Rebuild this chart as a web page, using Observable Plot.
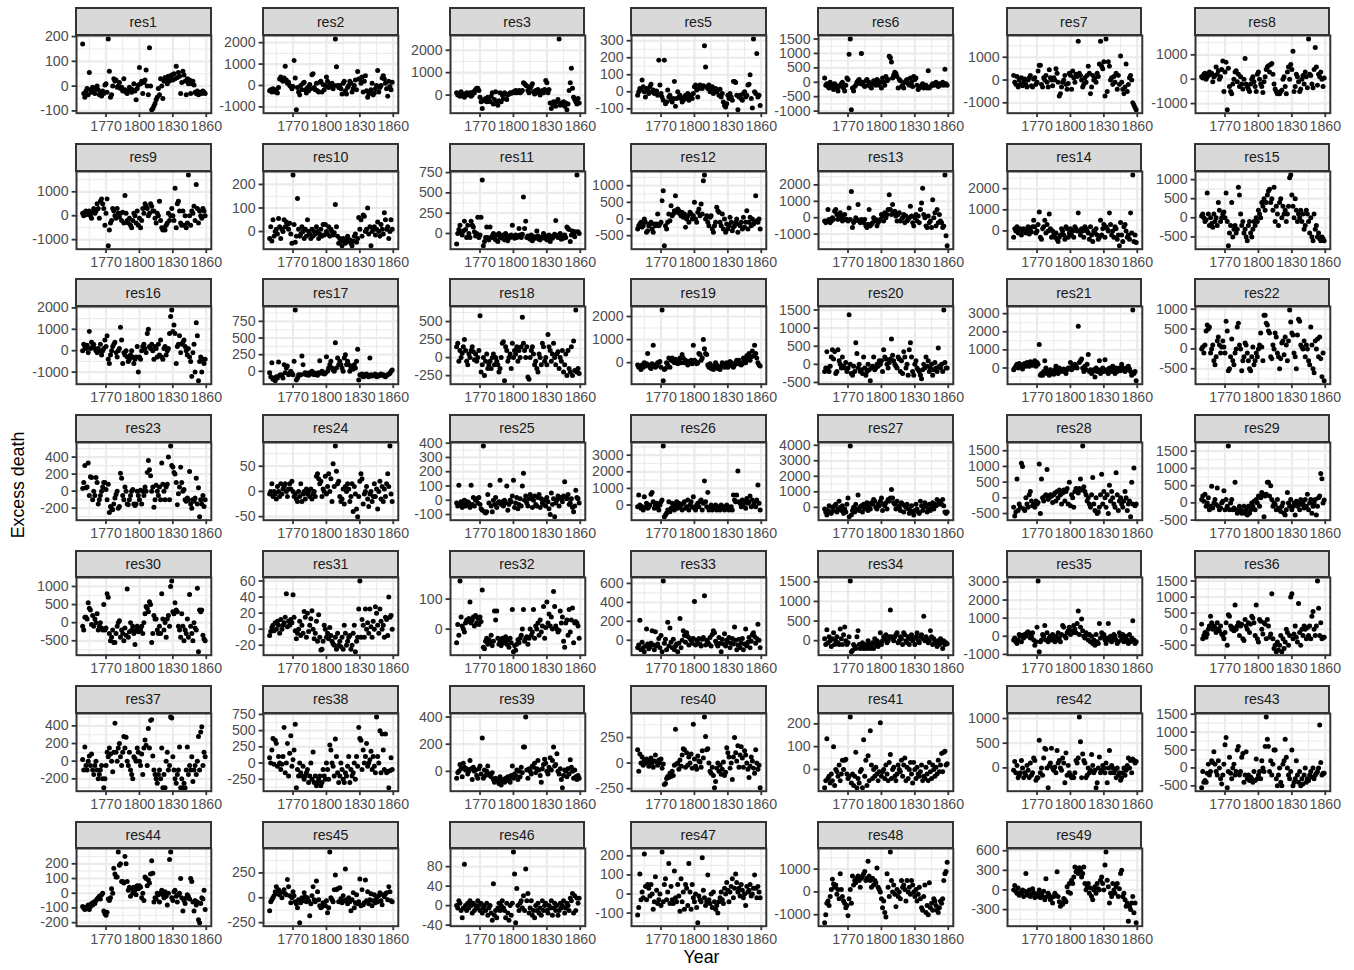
<!DOCTYPE html>
<html><head><meta charset="utf-8">
<script src="https://cdn.jsdelivr.net/npm/d3@7"></script>
<script src="https://cdn.jsdelivr.net/npm/@observablehq/plot@0.6"></script>
<style>
body{margin:0;background:#fff;}
#chart{position:relative;width:1354px;height:970px;font-family:"Liberation Sans",Arial,Helvetica,sans-serif;overflow:hidden;background:#fff}
.strip{position:absolute;box-sizing:border-box;background:#D9D9D9;border:2px solid #333333;color:#1A1A1A;font-size:14.2px;display:flex;align-items:center;justify-content:center}
.pl{position:absolute}
.title{position:absolute;font-size:17.75px;color:#000;white-space:nowrap}
</style></head><body><div id="chart"></div>
<script>
const firstYear = 1749;
const panelNames = ["res1","res2","res3","res5","res6","res7","res8","res9","res10","res11","res12","res13","res14","res15","res16","res17","res18","res19","res20","res21","res22","res23","res24","res25","res26","res27","res28","res29","res30","res31","res32","res33","res34","res35","res36","res37","res38","res39","res40","res41","res42","res43","res44","res45","res46","res47","res48","res49"];
const xTickLabels = [1770, 1800, 1830, 1860];
const xMinorBreaks = [1755, 1785, 1815, 1845];
const yTickLabels = {
res1:[-100,0,100,200], res2:[-1000,0,1000,2000], res3:[0,1000,2000], res5:[-100,0,100,200,300],
res6:[-1000,-500,0,500,1000,1500], res7:[-1000,0,1000], res8:[-1000,0,1000], res9:[-1000,0,1000],
res10:[0,100,200], res11:[0,250,500,750], res12:[-500,0,500,1000], res13:[-1000,0,1000,2000],
res14:[0,1000,2000], res15:[-500,0,500,1000], res16:[-1000,0,1000,2000], res17:[0,250,500,750],
res18:[-250,0,250,500], res19:[0,1000,2000], res20:[-500,0,500,1000,1500], res21:[0,1000,2000,3000],
res22:[-500,0,500,1000], res23:[-200,0,200,400], res24:[-50,0,50], res25:[-100,0,100,200,300,400],
res26:[0,1000,2000,3000], res27:[0,1000,2000,3000,4000], res28:[-500,0,500,1000,1500], res29:[-500,0,500,1000,1500],
res30:[-500,0,500,1000], res31:[-20,0,20,40,60], res32:[0,100], res33:[0,200,400,600],
res34:[0,500,1000,1500], res35:[-1000,0,1000,2000,3000], res36:[-500,0,500,1000,1500], res37:[-200,0,200,400],
res38:[-250,0,250,500,750], res39:[0,200,400], res40:[-250,0,250], res41:[0,100,200],
res42:[0,500,1000], res43:[-500,0,500,1000,1500], res44:[-200,-100,0,100,200], res45:[-250,0,250],
res46:[-40,0,40,80], res47:[-100,0,100,200], res48:[-1000,0,1000], res49:[-300,0,300,600]
};

// values, one per year from 1749 to 1859
const res1 = [170,-30,-45,-20,-10,-35,55,-15,-25,-5,
-20,-30,-10,0,-15,-35,-25,-40,-20,-30,
5,10,-25,190,60,-45,-35,0,30,20,
25,-5,0,15,-10,-5,-20,30,-15,-25,
-30,-20,-5,-10,-25,-15,10,-20,-55,-10,
5,75,10,20,-30,15,25,65,0,-35,
155,0,-95,-90,-80,-70,-55,-45,-10,-35,
30,0,-50,20,35,25,10,40,20,30,
45,25,50,30,80,35,55,40,-30,15,
60,45,20,-35,30,10,25,-30,10,20,
5,-25,-30,-20,-35,-30,-25,-30,-20,-25,
-30];
const res2 = [-250,-200,-300,-150,-250,-300,-200,-350,-100,300,
400,250,200,350,900,250,100,150,0,-50,
-150,-50,1170,350,-1130,-100,-300,-450,0,-200,
100,150,-200,-350,-100,-250,50,-150,500,550,
-100,-200,100,-250,-300,150,200,-300,50,-200,
0,400,200,-100,50,-50,100,-150,0,2170,
870,0,-100,0,-150,-400,100,200,-250,-400,
-100,0,200,100,-300,-150,0,250,-200,650,
300,300,100,400,-300,200,450,-250,-550,-400,
-300,-200,100,-450,-350,-150,0,700,-300,-100,
0,350,450,300,100,-150,-500,200,-50,-200,
150];
const res3 = [100,0,50,-50,150,50,0,-100,50,100,
0,50,100,-50,0,150,100,250,300,300,
200,-100,-300,-600,-250,-200,-150,-300,-100,-200,
-300,-50,100,-400,-200,150,-350,-450,-250,100,
-300,0,-150,100,50,-200,0,50,100,80,
100,150,100,200,100,150,200,100,150,200,
550,500,450,400,200,100,300,400,500,150,
50,200,100,250,100,0,150,200,100,250,
650,550,100,250,-350,-600,-400,-300,-450,-500,
-300,-200,2500,-450,-350,-400,-300,-500,-350,-650,
-400,200,550,1200,300,-100,-200,-300,-400,-150,
-350];
const res5 = [-20,0,20,10,70,30,0,-30,20,10,
-10,30,45,0,10,-10,0,5,-20,185,
40,-10,-30,-50,185,-70,-60,10,-30,-20,
-50,-60,-40,60,-85,-40,0,-30,-20,-40,
-60,-50,-30,-20,-40,-10,-50,-30,-20,-40,
-10,30,40,10,-30,20,40,30,20,35,
270,145,30,20,40,0,20,30,-10,10,
20,0,10,-20,15,-30,-10,-60,-80,-90,
-70,-20,-40,-10,-30,-50,60,60,55,-20,
-105,-30,-20,-40,-50,-10,0,-30,-20,40,
45,100,-40,-95,310,0,-10,225,-30,-20,
-80];
const res6 = [150,-100,-50,-150,-200,0,-100,-150,-250,-50,
-100,-200,-300,-150,-100,-50,0,-200,-300,-100,
150,100,970,1500,-950,-200,-300,-150,-100,0,
50,100,-50,1000,0,-100,-150,50,100,-100,
0,-150,-200,-50,50,0,-100,100,50,-100,
0,-200,150,0,-100,200,50,100,900,850,
700,150,250,350,300,200,-200,100,50,-150,
-100,-200,0,50,100,-50,-100,150,0,-150,
200,100,150,-100,-250,-200,-150,-100,-50,-200,
-150,-100,-200,400,-200,-150,-100,-50,-100,-50,
0,-100,-150,-50,-100,-50,0,-100,450,-50,
-100];
const res7 = [200,-100,-200,150,-300,0,-200,100,-250,-100,
50,-200,-300,0,100,200,-250,-300,50,100,
-200,-100,400,650,650,-200,-300,100,0,200,
-100,-300,450,100,0,-250,100,0,500,300,
-100,-700,-600,-300,-100,0,200,-200,-400,-150,
300,200,-400,400,100,-100,250,150,1700,300,
200,0,-300,-200,100,-100,200,600,300,-600,
-300,200,0,100,-100,300,150,700,1700,600,
500,800,-700,1800,-500,800,600,0,100,-200,
150,-100,300,-400,200,-200,1050,-100,-400,-600,
-300,700,-500,-200,100,200,0,-1000,-1100,-1200,
-1300];
const res8 = [100,50,200,250,0,100,150,300,200,250,
-100,100,150,500,200,350,0,100,400,750,
-500,300,700,-1250,450,-300,-500,-600,-200,0,
300,350,-100,200,-300,100,-200,-400,0,850,
-200,-300,-400,-500,-200,0,100,-100,-300,-500,
200,300,0,-200,-300,-550,-100,100,400,500,
550,300,600,650,200,-200,-400,-500,-600,-550,
-600,-500,-450,0,100,-300,-600,300,500,0,
600,400,1150,-500,-300,200,100,-100,-500,-400,
0,150,-200,300,100,-350,1650,200,150,-200,
-350,400,1300,500,-250,200,100,300,0,-300,
50];
const res9 = [100,0,150,200,50,100,200,0,-100,150,
300,100,200,500,300,-100,600,700,500,300,
-400,100,700,-1250,-600,-300,-200,300,200,0,
-100,300,100,-50,100,-200,150,-300,850,100,
-200,-300,-100,-400,-500,-200,100,0,-300,200,
-400,-100,-500,-200,300,100,500,400,300,0,
100,500,400,200,200,-100,-300,100,0,600,
-200,-500,-600,-500,-600,-400,-300,100,-200,0,
300,0,-200,1150,-500,500,600,200,-300,-400,
200,-400,0,-500,-300,1700,0,-400,200,100,
400,-200,1300,300,-300,200,0,-100,300,200,
0];
const res10 = [-30,20,-40,50,-20,0,10,-10,55,20,
-30,10,0,50,20,40,30,10,35,-10,
-50,240,30,-45,-20,140,10,-20,-10,20,
0,-30,10,-20,50,0,-10,-30,10,-20,
0,-10,20,0,-30,-10,10,-20,30,-15,
30,0,-10,20,-20,10,0,-15,-5,115,
20,-20,-50,-30,-40,-60,-30,-40,-50,-30,
-20,-40,-35,-50,-60,-40,-20,-10,-45,-30,
60,10,50,-20,70,65,0,10,100,-10,
20,-60,0,10,20,-15,10,40,0,-20,
30,10,-10,80,50,10,20,-30,0,50,
10];
const res11 = [-130,0,50,100,20,-20,30,150,50,-50,
100,0,-50,150,100,80,20,-30,0,200,
-50,-20,200,660,-150,-100,-50,80,-50,-80,
80,-50,-30,0,-60,-80,-20,-100,0,-50,
-30,-60,-20,-80,0,-40,-90,-30,-50,-20,
100,-40,-60,-20,-50,-30,60,-20,-50,-10,
450,60,150,-50,-30,-60,-70,-20,-90,-50,
-40,-60,30,-30,-70,-80,-50,-40,0,-60,
-30,-80,-50,-20,-100,-40,-60,-30,-10,160,
-30,-50,-20,0,-70,-40,-60,-20,-50,80,
60,50,-100,-20,30,-10,-40,20,720,20,
0];
const res12 = [-300,-200,-150,-100,-250,-200,0,-100,-400,-350,
-200,-150,-100,-300,-400,-150,-200,-150,150,-200,
-150,-100,550,850,-800,-200,-300,-100,150,-50,
400,100,150,250,700,200,300,250,150,100,
200,50,150,-250,0,100,-100,200,150,0,
100,500,0,-100,200,300,100,450,150,1150,
1320,0,100,-100,-200,50,100,-300,-400,-200,
-100,350,250,200,-100,-200,150,-300,0,-400,
-150,-300,-200,50,-100,-350,-250,-200,-100,0,
-400,-150,-200,-100,-300,50,-250,-100,250,-300,
-100,50,-200,0,-150,-100,700,-50,-100,0,
-300];
const res13 = [-200,-300,-200,500,-100,-300,-200,0,-100,400,
500,200,-100,0,300,100,-200,-100,200,-100,
-100,-200,600,-100,1600,-600,-300,-200,0,-100,
800,-200,-300,-100,-200,-300,-100,-500,-600,-400,
500,-500,-400,-300,0,-200,-100,-500,-300,-200,
-100,200,100,-200,300,0,200,500,1400,500,
200,800,300,400,100,-200,200,300,-200,-100,
0,200,-300,100,-200,-100,0,700,100,-300,
-500,0,200,-200,100,-300,500,900,1800,200,
0,-500,-600,100,-300,-200,-600,1100,0,300,
-500,500,-300,200,-200,-300,-600,-500,2600,-1100,
-1700];
const res14 = [-300,100,0,200,-100,50,100,-200,0,100,
50,-100,0,200,-150,100,-50,200,500,200,
-100,0,300,900,-300,-400,100,200,500,-100,
300,0,800,100,-300,0,-200,-300,-100,-400,
-500,-300,-200,100,0,-200,-400,200,100,-300,
-100,100,-200,0,-300,200,100,0,850,0,
-200,100,0,-300,200,100,0,-100,-400,200,
-200,-500,0,-100,100,-200,-400,-300,500,-200,
100,300,-300,200,100,0,850,300,-200,0,
-300,200,100,-400,-200,-700,400,-200,-500,200,
300,0,-300,-200,-400,850,-100,2650,-500,-200,
-550];
const res15 = [50,100,0,-100,-50,650,100,-200,0,-150,
-250,100,-100,0,-200,400,200,-100,0,100,
150,0,650,-100,-730,-400,-200,400,-500,-300,
-200,-400,-300,800,600,100,-200,-100,-400,-300,
-500,-600,-200,-100,-400,-500,-300,-100,-200,0,
-100,200,100,0,400,300,500,200,400,600,
700,750,400,500,200,800,-100,300,100,-200,
400,500,0,300,100,200,-100,100,300,1050,
1120,600,300,0,500,200,-100,100,0,200,
-100,100,-300,-200,200,100,-100,-400,0,-500,
-600,100,-300,-200,-500,-400,-550,-600,-500,-550,
-600];
const res16 = [0,300,200,100,250,-100,900,100,400,200,
300,100,0,-100,100,0,300,-200,0,100,
500,200,700,-400,-600,-200,0,200,300,400,
-100,-300,0,100,1100,500,-600,-100,-200,0,
-300,-500,-400,-200,0,-300,-600,-400,-300,200,
-1000,-300,-400,0,200,300,100,-100,800,1000,
200,100,300,0,-400,200,100,-300,300,-200,
500,-300,-400,100,200,-200,0,100,800,1600,
1900,900,1200,800,-600,200,300,700,-100,300,
400,500,200,0,-200,100,-300,-500,-1200,-100,
300,-1000,1300,700,-1400,-500,-300,-1000,-400,-600,
-400];
const res17 = [-20,-80,130,-120,-100,-140,-80,-100,140,-60,
-50,-60,-100,100,-20,50,80,-50,-30,0,
-30,-50,150,920,-130,-100,-50,-60,-50,230,
100,-40,-20,-50,-30,-60,-20,-40,0,-20,
-50,-30,-40,-60,-20,160,-30,0,-20,-40,
-30,220,0,50,100,150,50,20,0,430,
50,200,100,150,100,50,0,200,250,100,
150,100,0,50,80,30,100,50,150,330,
-130,-50,-60,-40,-80,-50,-70,-40,-60,-80,
200,-50,-70,-60,-50,-40,-80,-60,-70,-50,
-40,-60,-50,-70,-80,-60,-50,-40,-30,0,
20];
const res18 = [150,200,-50,100,0,60,150,250,100,-50,
-100,50,0,100,150,80,-30,50,-50,0,
100,580,-200,-100,0,-250,-50,50,-150,-100,
-50,-150,0,50,-100,0,-50,-100,-200,-150,
0,200,220,-320,150,100,-50,0,50,-150,
200,0,100,50,150,-50,100,0,150,560,
200,100,0,150,-270,-300,0,100,150,50,
-100,-50,-150,-200,50,0,-100,200,150,-50,
0,-100,320,150,100,-50,50,200,0,-100,
50,80,-150,0,-50,100,-200,-100,50,-250,
100,-150,-200,150,-250,230,-180,660,-200,-150,
-220];
const res19 = [-100,-200,-150,-300,-100,-200,0,-150,-50,400,
-100,-200,-250,-50,750,-100,-200,-150,0,0,
50,-200,2280,-780,-300,-250,0,-100,200,-200,
100,200,50,0,150,100,-50,100,200,0,
350,200,0,100,50,-100,50,0,100,-50,
750,100,50,-50,0,400,350,100,200,1000,
600,400,350,-100,-200,-50,-250,-150,-300,-200,
0,-100,-250,-200,-300,-150,0,-100,-200,-150,
0,-200,-100,50,0,-150,-200,-100,0,100,
-50,100,0,-100,-50,200,100,0,300,150,
400,100,250,500,300,750,400,200,0,-100,
-150];
const res20 = [-200,-100,350,-100,-200,-50,200,400,150,350,
-250,-200,400,100,0,-100,200,-50,-100,50,
-200,-100,1370,0,-250,-300,-50,-200,600,300,
-100,0,-200,-150,-250,200,-100,-300,-200,0,
-150,-450,-100,-50,200,-150,-100,0,-50,100,
0,100,-200,400,200,150,0,-100,50,150,
700,250,100,0,-50,-100,200,150,-200,100,
-250,350,200,-100,0,-300,400,600,200,-200,
-300,0,100,-100,-150,-200,-300,-400,-150,0,
-100,200,-50,100,-200,-100,0,-300,-150,50,
-100,-200,450,-50,-100,0,-200,1500,50,-100,
-100];
const res21 = [-100,0,100,200,0,250,100,150,-50,200,
250,100,300,200,100,350,200,150,300,400,
100,300,200,1300,-400,-300,-400,-200,400,0,
-300,-200,-400,-100,-200,-300,-350,-100,100,-200,
-300,0,-100,-200,-100,-50,-200,-300,-100,0,
0,300,-100,100,0,200,100,0,2300,300,
400,500,0,-200,100,-100,200,750,-200,-100,
-300,-200,-100,-500,0,-200,-100,400,-300,-100,
0,-200,450,-100,-200,-300,0,-100,-200,100,
-100,-300,0,-200,-100,0,-150,200,0,-100,
-200,0,-100,100,-50,-200,-400,3200,-300,-200,
-700];
const res22 = [0,50,-100,100,450,600,500,550,-100,0,
100,-300,-400,-200,200,300,100,-100,50,200,
50,-100,700,450,-550,-500,-200,250,-300,-400,
-100,0,550,650,100,0,-550,-300,-200,150,
100,-100,-300,-500,-550,-200,50,-400,-300,-100,
-200,0,100,400,50,-300,850,850,650,600,
450,400,-200,-250,100,0,400,300,-100,-200,
-500,-250,150,200,-150,300,100,-300,200,980,
680,400,350,-100,-200,-500,350,750,700,100,
50,0,200,-200,100,0,-300,-400,550,100,
-500,-600,200,0,250,-200,300,-250,-700,-100,
-800];
const res23 = [30,100,300,40,50,330,-50,170,160,-100,
0,-50,160,100,-150,-100,-50,0,50,100,
100,20,-100,80,-250,-180,-200,-220,-150,-80,
-40,0,-200,-180,210,150,-50,-100,50,0,
-150,-160,-100,-50,0,20,-150,-170,-150,0,
-50,-100,10,-150,0,-50,50,0,220,360,
250,180,0,50,-190,-100,70,0,-50,50,
-100,330,80,0,-100,50,80,400,-100,530,
300,280,220,200,100,-160,-30,50,280,100,
0,20,-100,-120,-80,-100,230,-150,-200,-100,
-120,-80,150,-150,40,-300,-100,-150,-50,-180,
-100];
const res24 = [-5,0,15,-10,0,-5,-15,10,0,-10,
15,-5,5,10,15,0,-10,5,15,5,
20,0,-10,-5,-15,-20,0,-10,15,-20,
-5,0,-15,5,-5,0,-10,5,-15,-5,
0,-10,30,35,25,15,20,-10,5,0,
30,-5,10,35,0,25,-20,55,10,90,
40,15,20,-10,-20,-15,5,-25,10,0,
15,5,-20,-10,15,-40,10,-5,-35,-50,
-10,20,35,25,-25,-5,0,10,-15,-30,
-5,0,-20,-10,15,-10,5,-35,0,20,
-15,10,-20,5,-10,15,35,10,90,-5,
-20];
const res25 = [-20,-40,105,-30,-10,-50,-20,0,-40,-30,
-10,-20,-50,105,-30,20,-40,0,10,-20,
20,-30,-60,-70,380,-80,-90,-80,40,-20,
105,-40,-80,0,-30,20,-50,-20,-10,140,
-30,-10,-40,0,-20,100,-70,-30,0,-10,
30,140,-50,-20,20,-60,-30,10,-40,100,
190,0,30,-20,-40,10,40,20,-50,0,
30,-30,-40,20,40,-50,10,-20,-30,0,
-40,20,-10,-60,-100,50,-30,10,-115,-20,
0,30,-40,20,10,-10,30,130,20,10,
40,-30,-20,10,-50,-80,-40,70,20,10,
-20];
const res26 = [-100,600,0,-200,-100,-300,500,-150,100,-200,
-100,0,650,750,200,-200,0,100,-100,-300,
0,200,300,3550,-700,-600,-500,-300,200,-400,
-200,100,-100,-300,0,200,-200,100,-100,0,
-300,100,200,-200,-100,300,-300,0,200,-100,
500,-200,-300,0,100,-100,200,300,-300,100,
1450,200,-100,750,-300,-200,0,-300,-100,-200,
0,-300,-200,-100,-300,0,-200,-100,-300,-200,
0,-100,-300,-200,-100,-300,600,300,200,600,
2050,200,100,-100,300,0,200,-200,400,100,
200,550,-100,300,0,200,-100,300,1200,100,
-300];
const res27 = [-100,-300,-500,-200,100,-300,-400,0,-200,100,
200,-300,-100,400,0,-200,100,-400,-100,-300,
200,600,-600,3950,-500,-200,0,-300,200,-100,
800,-200,0,100,-300,200,-100,0,300,-200,
100,-100,300,200,500,400,0,-100,200,100,
400,600,-200,200,100,300,-100,500,400,600,
1150,600,300,200,-100,400,100,0,-200,300,
200,-300,100,0,200,-100,-400,-200,100,-300,
-500,-200,200,-100,-300,-400,400,100,-200,0,
300,100,-300,-100,200,-200,0,300,-100,200,
100,500,200,300,400,200,500,100,-300,-400,
-300];
const res28 = [-300,-580,-450,600,-400,-200,-300,1100,1000,-350,
-400,0,-200,-300,100,200,-100,-250,-200,-300,
-100,-200,-150,1080,-500,600,0,-100,50,100,
900,-50,0,100,50,-150,100,150,-100,200,
0,250,100,-200,150,250,-100,200,300,-200,
500,-250,100,0,-300,200,300,250,150,300,
600,250,1650,350,200,100,-100,0,-200,-300,
100,650,-200,-400,0,-500,-450,-300,100,750,
-200,200,0,-300,100,-500,400,-100,200,0,
-200,-300,800,100,-400,-100,0,-200,-300,-100,
200,0,-400,-200,-100,-600,500,-200,950,-250,
-200];
const res29 = [100,200,50,250,-100,0,150,-200,-100,480,
-150,0,100,-50,430,-100,-200,-150,0,50,
350,-200,100,-100,1650,-200,0,100,-200,-150,
600,-200,-300,-250,-100,-200,-300,-250,-100,-300,
-200,-350,-100,-300,-200,0,-100,50,-200,100,
0,200,-100,150,300,250,-400,200,250,600,
600,200,500,100,-100,0,-50,-200,100,-150,
-200,-250,-100,0,-300,-350,-200,300,0,-100,
100,-200,-100,0,-350,50,-100,0,-200,100,
-50,0,-150,100,-100,250,-200,0,100,-300,
-100,0,100,-350,-100,150,200,850,700,0,
80];
const res30 = [-100,-200,150,150,100,550,400,350,-50,200,
-100,100,0,250,-200,-100,0,-150,-200,500,
-200,-150,800,700,-300,-500,-400,-200,-550,-550,
-300,-100,0,50,-400,-200,-300,-500,-150,-350,
930,-400,-250,0,-200,-100,-300,-600,-200,-100,
-250,-150,-200,-100,-300,0,250,450,400,300,
580,500,-550,-300,200,100,100,-200,-300,-100,
-300,800,100,-200,0,-400,100,200,-100,1000,
1150,300,250,550,350,300,-100,-200,-400,250,
-100,-500,-200,-300,100,-400,780,-100,-300,-500,
0,-150,-200,950,-800,350,300,350,-350,-450,
-500];
const res31 = [-8,-3,2,5,-2,8,0,10,5,-5,
12,0,5,8,15,44,3,10,5,12,
8,43,15,-2,-12,-5,0,10,-8,5,
-5,22,15,-10,20,-3,5,13,23,0,
-12,-5,10,-15,18,-10,-26,-25,-15,5,
0,-10,-5,-12,2,-8,-15,-18,-20,-10,
-25,-5,-20,-15,-22,-10,-25,5,-5,-20,
-15,-10,-8,-25,-20,-5,5,-28,-15,-10,
25,60,-10,12,5,-10,25,0,8,-5,
25,3,-10,10,0,28,20,5,-5,25,
10,0,5,-10,15,12,-8,40,15,17,
0];
const res32 = [-45,15,-20,160,40,10,0,-10,20,30,
25,35,90,20,30,40,10,45,20,35,
15,40,25,130,-60,-65,-40,-30,-50,-35,
-45,-20,-55,-40,60,30,60,-30,-50,-40,
-55,-30,-45,-40,-25,-50,-35,-60,-30,-45,
65,-75,-55,-70,-50,-35,-45,-30,-20,0,
65,-40,-30,-25,-50,-30,0,-20,-10,65,
-30,10,0,20,-20,30,-10,10,75,-30,
5,90,20,50,10,40,0,125,75,10,
0,-10,-5,60,20,40,-40,-60,20,30,
-20,65,-10,30,70,-45,20,25,20,10,
-30];
const res33 = [-80,-50,210,-100,-20,-80,-120,-60,120,-40,
-90,-70,-30,100,-50,-100,90,-60,-40,20,
-80,50,-120,625,-30,10,-100,190,-60,130,
-20,-80,10,-100,-60,-40,-120,-30,230,-80,
0,100,50,-20,80,40,-50,20,0,-30,
20,410,-50,0,-30,20,-40,-60,10,30,
470,-50,0,-20,-40,30,-60,60,100,80,
-10,-40,-60,30,-30,-120,10,-40,70,-60,
0,-20,30,-80,-30,20,-40,140,0,-100,
-50,10,-80,-30,20,-100,-40,120,-60,-20,
30,-80,-10,60,80,40,-30,20,170,0,
-80];
const res34 = [50,-100,280,-50,100,0,-150,50,200,-100,
0,100,-50,-100,300,50,-100,150,350,0,
-100,-50,100,1520,-280,-250,-100,-150,-200,100,
250,-100,-200,-150,-50,-200,-100,-150,-200,0,
-100,-200,-150,-50,-200,50,-100,0,-150,-50,
200,-100,0,100,50,150,-50,0,100,780,
100,50,0,100,150,200,-50,0,100,50,
-100,200,150,0,-50,100,-100,50,150,0,
50,-100,100,200,0,-50,100,150,50,620,
0,100,50,-50,0,250,100,-100,50,0,
-50,-150,0,-100,50,-50,-200,0,-100,-50,
-80];
const res35 = [-200,-100,-300,-400,-200,100,0,-300,50,-100,
100,0,200,250,150,-100,0,200,-200,-500,
-300,500,3050,-850,-300,-200,100,0,600,-200,
200,-300,-100,0,-200,100,-100,-300,0,-200,
200,-100,-300,100,600,500,0,-100,200,300,
500,100,300,200,600,400,200,700,1400,100,
500,950,300,0,-100,200,100,-200,100,-300,
0,-400,-200,-500,100,-300,-400,700,-100,200,
0,100,-200,-400,-100,700,-200,0,-300,-100,
100,0,-200,-400,-300,200,0,-200,100,-300,
-100,0,-200,-400,100,-300,-100,850,-200,-400,
-300];
const res36 = [150,-300,-200,-100,-250,-150,0,100,400,200,
0,100,50,-100,200,0,-50,100,-150,-200,
-300,-100,200,-500,450,400,100,0,50,-50,
750,0,100,200,-200,100,150,-300,-350,300,
100,0,200,-100,150,400,350,200,-200,750,
-300,-400,300,250,0,-150,200,150,-300,300,
100,-250,-150,1100,-300,-600,-500,-700,-400,-650,
-500,-200,-700,-300,-600,-400,0,-100,-500,-200,
1000,1100,-300,-150,100,-250,-400,800,-100,-500,
0,-200,100,0,-300,50,-200,100,-300,400,
550,0,-200,100,1500,650,-200,200,-300,-250,
-250];
const res37 = [20,-100,160,-50,-100,0,60,-50,80,-100,
-150,-50,0,-100,-200,-150,-100,-50,-200,-300,
-200,-50,100,50,150,80,0,-120,100,430,
100,0,150,200,50,-50,100,280,150,270,
0,-50,100,-100,-150,-200,50,30,0,150,
100,0,-50,80,-150,150,240,180,-50,370,
150,460,470,60,-100,-150,-200,-250,-150,-100,
-200,150,-300,-150,-300,0,100,-100,-50,500,
490,50,-100,-200,-250,-150,-100,160,-300,-200,
-300,-250,-300,-100,160,-150,-50,-100,50,-230,
-100,-50,-150,0,280,-100,330,390,-50,100,
50];
const res38 = [80,0,200,380,-20,350,300,-50,100,0,
-100,-20,100,550,-150,0,300,-200,150,420,
-50,50,200,600,-380,-100,-200,0,-150,-200,
-50,-250,-200,-150,-100,-300,-200,0,-250,170,
-300,-200,-350,-300,-250,-200,-350,-300,-100,-200,
-250,0,-100,-250,280,200,0,-50,-200,370,
100,-150,-300,-200,0,-100,-250,-300,-150,-200,
-50,100,-300,-100,-200,-150,0,-250,100,-50,
550,380,350,-100,200,0,100,300,-50,0,
50,180,-100,100,-50,-150,710,100,0,500,
-150,450,200,-100,450,-150,-130,-380,-120,80,
-100];
const res39 = [-50,-10,0,50,20,-40,60,30,10,20,
-20,0,80,20,-60,30,0,10,-30,-50,
20,40,-20,245,-50,10,-30,0,40,-20,
-30,-40,-10,-60,-80,-50,-70,-60,-90,-40,
-100,-70,-60,-80,-50,-70,-40,-60,-80,-30,
40,-50,-20,-30,10,-60,0,-40,30,-10,
180,180,400,10,-50,20,0,-20,40,30,
60,-10,20,80,10,-30,-80,20,50,90,
60,0,-20,30,100,10,80,180,40,50,
130,0,-20,20,-60,-120,-30,10,0,-40,
20,-20,85,30,0,-50,10,-40,-60,-30,
-50];
const res40 = [130,-80,90,0,60,-20,30,0,40,20,
-30,10,50,0,-40,20,80,10,-20,30,
0,40,-50,-10,-210,-200,-150,-130,-140,-100,
-130,-80,-120,-20,330,-10,0,-60,30,-30,
80,140,130,-40,100,-20,60,0,90,-50,
380,40,-30,-60,70,20,10,-40,120,50,
450,260,130,140,0,-80,-100,-40,-120,-240,
-180,-50,0,-80,-20,-110,-60,10,-120,-90,
150,100,60,-50,0,-160,60,250,100,20,
170,-40,80,160,50,-40,120,80,0,-60,
-140,-30,60,20,-50,-100,130,0,-60,-20,
-240];
const res41 = [-80,-50,135,-40,-30,-60,-20,-50,100,-70,
0,-10,-30,20,-50,-20,40,0,40,45,
-20,-40,-30,230,-60,-20,-70,-30,75,-80,
-40,-60,-10,0,-80,130,-30,40,-70,60,
-50,170,20,-40,0,-30,10,-20,-50,-10,
205,-30,-10,0,-40,20,-20,-50,30,65,
-40,0,10,-30,-50,-20,20,0,-10,40,
-30,20,50,-50,10,-40,0,30,-20,-60,
30,0,-40,10,-20,-30,-10,20,-50,-30,
-40,10,-20,-50,30,-10,-40,20,0,-30,
10,-20,40,-10,20,70,-10,75,80,20,
25];
const res42 = [-50,130,-100,50,-200,-150,-100,150,0,-200,
-100,-150,50,-50,-200,100,-150,-100,200,150,
-250,-200,-200,560,-100,0,-150,200,400,380,
0,-400,50,100,400,0,-50,20,-100,350,
100,150,0,-50,200,100,-300,300,-150,50,
-100,-150,-200,-180,-200,-100,150,100,200,1030,
530,-200,280,150,100,-200,-150,0,-100,-50,
270,50,-100,-50,-400,-300,0,220,-100,-50,
50,0,-100,100,-300,0,350,-100,50,0,
-100,-50,-200,0,-150,-100,-250,-200,-100,0,
-150,-50,50,200,0,150,-100,180,150,100,
130];
const res43 = [-550,-100,-400,-350,-400,-150,100,-200,-100,200,
150,450,100,-100,-200,200,0,-300,-450,-200,
100,650,850,-550,-100,300,-150,-300,0,100,
-200,-100,500,600,-200,-100,300,400,-400,-200,
450,-300,-200,-350,-250,-300,-400,-100,-350,250,
-300,-200,-100,-300,200,0,-100,600,1420,800,
600,-100,200,-200,100,500,500,-300,-500,-200,
0,-400,-500,100,200,800,300,0,-200,-300,
-100,500,-500,-400,-300,200,-200,-400,-100,-500,
-300,-450,-200,0,-400,-300,-350,-200,-100,-250,
0,-300,-200,-150,-100,0,1200,150,-200,-150,
-150];
const res44 = [-90,-100,-110,-95,-100,-80,-110,-90,-70,-80,
-60,-70,-50,-40,-30,-20,-40,-10,0,-120,
-140,-150,-130,-40,-50,-30,30,0,170,130,
110,110,280,190,200,80,80,70,250,200,
80,20,40,-20,30,0,40,20,-10,50,
30,50,40,-30,0,-50,110,100,50,90,
70,130,220,135,-60,-30,-40,0,-10,-60,
0,20,-10,-30,10,-20,-80,0,230,280,
-30,-50,10,20,-20,-60,-10,0,100,-30,
-120,-50,-70,-30,-10,-20,-40,100,80,-60,
-120,-50,-80,-60,-180,-200,-70,-30,-40,20,
-110];
const res45 = [-130,-40,-20,0,20,60,110,40,80,30,
50,0,60,80,40,30,185,110,20,-50,
0,60,20,-40,-60,-100,-20,-250,-50,0,
-30,50,10,-40,0,-30,-180,-60,20,110,
-20,-40,170,60,-20,-80,-100,-90,-50,-60,
-80,-30,-150,-100,460,0,-20,-40,80,230,
80,90,-40,100,-10,-50,20,-30,290,-20,
-60,0,-40,-130,-20,50,-100,-50,30,-60,
-40,190,-80,80,-70,-50,180,-30,60,-60,
-20,40,-80,-30,30,-50,0,-40,20,50,
-30,-70,30,10,40,50,-20,110,60,-30,
-40];
const res46 = [0,-5,10,5,-10,-25,-5,85,0,-10,
5,-5,10,0,-15,5,-10,0,-5,10,
0,-10,5,-15,-5,0,-10,5,-20,-5,
0,-15,-30,45,-20,-10,-25,-5,5,-10,
0,10,-5,-10,-25,5,-15,-30,0,-20,
5,110,65,-35,35,0,-10,5,10,-5,
20,-10,75,10,25,-15,-5,10,-20,-10,
-25,0,-10,5,-15,-5,-20,10,-10,0,
5,-10,-15,0,-5,10,-20,-5,5,-10,
0,-20,-10,5,-5,0,10,-15,-5,5,
0,-10,15,10,25,-15,20,-10,15,5,
15];
const res47 = [-110,-70,105,-30,10,-20,210,40,-30,50,
30,-10,50,0,-80,-40,90,20,-50,-30,
0,-60,220,-40,50,80,-30,10,160,-50,
40,-30,-50,120,-20,-40,50,-10,-90,80,
-40,10,-80,50,30,-60,160,10,-80,50,
-20,-40,0,-70,-150,-10,-30,-40,190,20,
-20,-60,-40,100,-30,-50,0,-70,10,-40,
-80,-60,-100,-40,-20,10,-30,-50,30,0,
60,20,-40,10,40,80,-20,30,105,60,
10,30,-10,50,20,-20,0,-60,40,10,
20,50,-10,0,30,100,30,-20,40,10,
-20];
const res48 = [-1350,-1000,-500,-400,-600,-200,100,550,350,200,
300,-100,100,-300,800,100,-200,-400,-500,-700,
-600,-1050,-300,100,-500,700,300,500,400,600,
700,500,200,600,700,800,900,500,600,1350,
700,500,200,600,300,500,400,1050,200,100,
0,-300,-700,-400,-900,-1100,800,200,-200,1750,
500,0,300,-100,-650,100,-200,0,-300,500,
200,300,100,-400,500,0,200,-100,500,300,
0,-200,100,-400,-100,200,-300,-700,-800,-200,
300,-900,-600,-1000,400,-700,-500,-800,-300,-400,
-600,-800,-900,-700,-400,-500,-300,500,800,900,
1300];
const res49 = [0,70,-20,-50,30,-80,-40,-60,0,-100,
-20,250,-50,-80,0,-100,-60,20,-40,-120,
-80,-100,-50,0,-120,-60,-100,-20,-150,170,
-100,-50,-80,-150,-120,-200,-100,-50,-80,280,
-100,-180,-250,-200,-220,-130,-150,-180,50,-30,
100,-50,150,100,200,350,280,300,250,340,
300,200,250,350,100,0,50,100,-50,30,
-100,-150,0,50,-50,100,20,0,150,200,
100,0,380,580,150,50,-200,-50,-100,100,
0,-50,50,100,-100,20,250,300,-100,-50,
-150,-250,-200,-480,-250,-300,-200,-100,-350,-200,
-500];

const seriesValues = {res1,res2,res3,res5,res6,res7,res8,res9,res10,res11,res12,res13,res14,res15,res16,res17,res18,res19,res20,res21,res22,res23,res24,res25,res26,res27,res28,res29,res30,res31,res32,res33,res34,res35,res36,res37,res38,res39,res40,res41,res42,res43,res44,res45,res46,res47,res48,res49};

// ---- layout ----
const colLeft = [75.8, 263.3, 449.6, 630.8, 818.3, 1006.5, 1194.6];
const panelW = 134.8, stripH = 26.7, plotH = 77.7, rowStep = 135.55, top0 = 8.3;
const mL = 60, mR = 24, mT = 2, mB = 30;
const fontFam = '"Liberation Sans", Arial, Helvetica, sans-serif';
const chart = document.getElementById("chart");
const fmt = d => String(d);
const bad = [];

panelNames.forEach((name, i) => {
  const r = Math.floor(i / 7), c = i % 7;
  const vals = seriesValues[name];
  if (vals.length !== 111) bad.push(name + ":" + vals.length);
  const data = vals.map((v, k) => ({year: firstYear + k, value: v}));
  const [mn, mx] = d3.extent(vals);
  const pad = (mx - mn) * 0.05;
  const yDom = [mn - pad, mx + pad];
  const ticks = yTickLabels[name].filter(t => t >= yDom[0] && t <= yDom[1]);
  const all = yTickLabels[name];
  const step = all[1] - all[0];
  const minor = [all[0] - step / 2, ...all.map(t => t + step / 2)].filter(t => t > yDom[0] && t < yDom[1]);

  const sTop = top0 + r * rowStep;
  const strip = document.createElement("div");
  strip.className = "strip";
  strip.style.left = (colLeft[c] - 1) + "px";
  strip.style.top = (sTop - 1) + "px";
  strip.style.width = (panelW + 2) + "px";
  strip.style.height = (stripH + 2) + "px";
  strip.textContent = name;
  chart.appendChild(strip);

  const svg = Plot.plot({
    width: panelW + mL + mR,
    height: plotH + mT + mB,
    marginLeft: mL, marginRight: mR, marginTop: mT, marginBottom: mB,
    style: {background: "transparent", overflow: "visible", fontFamily: fontFam, fontSize: "14.2px"},
    x: {domain: [1743.5, 1864.5], axis: null},
    y: {domain: yDom, axis: null},
    marks: [
      Plot.ruleX(xMinorBreaks, {stroke: "#EBEBEB", strokeWidth: 1.1}),
      Plot.ruleY(minor, {stroke: "#EBEBEB", strokeWidth: 1.1}),
      Plot.ruleX(xTickLabels, {stroke: "#EBEBEB", strokeWidth: 2.2}),
      Plot.ruleY(ticks, {stroke: "#EBEBEB", strokeWidth: 2.2}),
      Plot.dot(data, {x: "year", y: "value", r: 2.5, fill: "#000000", stroke: "none"}),
      Plot.frame({stroke: "#333333", strokeWidth: 2}),
      Plot.axisX(xTickLabels, {tickSize: 4.4, tickPadding: 3, stroke: "#333333", strokeWidth: 1.8, fill: "#4D4D4D", fontSize: 14.2, tickFormat: fmt, label: null}),
      Plot.axisY(ticks, {tickSize: 4.4, tickPadding: 3.5, stroke: "#333333", strokeWidth: 1.8, fill: "#4D4D4D", fontSize: 14.2, tickFormat: fmt, label: null})
    ]
  });
  svg.classList.add("pl");
  svg.style.left = (colLeft[c] - mL) + "px";
  svg.style.top = (sTop + stripH - mT) + "px";
  svg.style.position = "absolute";
  svg.style.maxWidth = "none";
  chart.appendChild(svg);
});

const yt = document.createElement("div");
yt.className = "title";
yt.textContent = "Excess death";
yt.style.left = "18px"; yt.style.top = "485px";
yt.style.transform = "translate(-50%,-50%) rotate(-90deg)";
chart.appendChild(yt);

const xt = document.createElement("div");
xt.className = "title";
xt.textContent = "Year";
xt.style.left = "701.5px"; xt.style.top = "957px";
xt.style.transform = "translate(-50%,-50%)";
chart.appendChild(xt);

if (bad.length) throw new Error("length mismatch " + bad.join(", "));
</script>
</body></html>
